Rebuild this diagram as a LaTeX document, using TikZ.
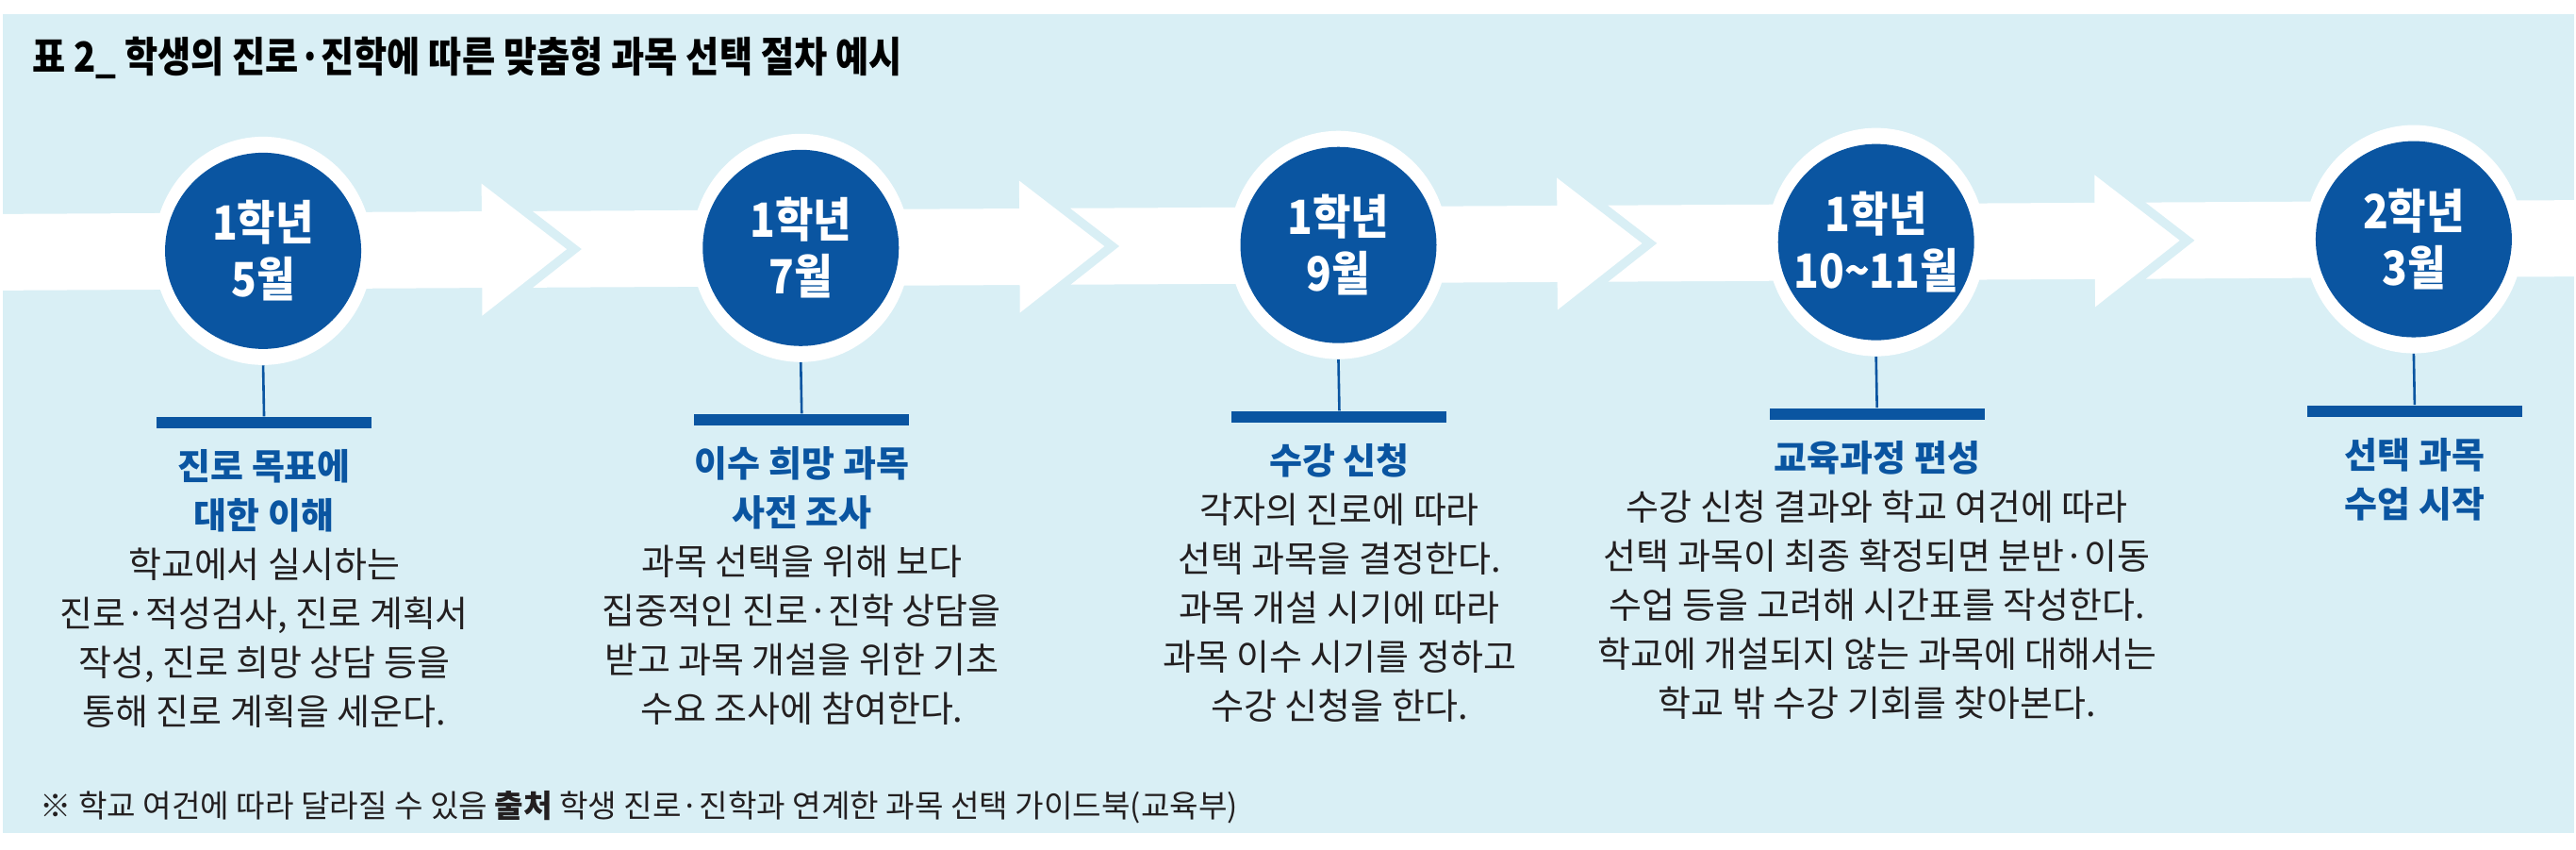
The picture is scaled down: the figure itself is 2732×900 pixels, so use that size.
\documentclass[tikz,border=0pt]{standalone}
\usepackage{fontspec}
\setmainfont{Noto Sans CJK KR}
\newfontfamily\circfont{Noto Sans CJK KR}[FakeStretch=0.88]
\newfontfamily\headfont{Noto Sans CJK KR}[FakeStretch=0.87]
\usetikzlibrary{shapes.geometric}
\definecolor{bgblue}{HTML}{D9EFF5}
\definecolor{tblue}{HTML}{0A55A1}
\definecolor{txt}{HTML}{231F20}
\newcommand{\ttl}[1]{\textcolor{tblue}{\bfseries #1}}
\begin{document}
\begin{tikzpicture}[x=0.5pt,y=-0.5pt,
 band/.style={fill=white,draw=none},
 ring/.style={ellipse,fill=white,minimum width=116pt,minimum height=121pt,inner sep=0},
 dot/.style={circle,fill=tblue,minimum size=104pt,inner sep=0,text=white,font=\circfont\bfseries\fontsize{25pt}{30pt}\selectfont,align=center},
 stem/.style={draw=tblue,line width=1.3pt},
 bar/.style={rectangle,fill=tblue,minimum width=114pt,minimum height=6pt,inner sep=0},
 desc/.style={anchor=north,align=center,inner sep=0,text=txt,font=\fontsize{19pt}{26pt}\selectfont}
]
\useasboundingbox (0,0) rectangle (2732,900);
\fill[bgblue] (3,15) rectangle (2730,883);
\node[anchor=base west,inner sep=0,text=black,font=\headfont\bfseries\fontsize{22pt}{24pt}\selectfont] (title) at (34,76) {표 2\_ 학생의 진로·진학에 따른 맞춤형 과목 선택 절차 예시};
\node[anchor=base west,inner sep=0,text=txt,font=\fontsize{16.6pt}{18pt}\selectfont] (note) at (42,866) {※ 학교 여건에 따라 달라질 수 있음 {\bfseries 출처} 학생 진로·진학과 연계한 과목 선택 가이드북(교육부)};
\begin{scope}[rotate around={0.31:(1366,260)}]
\path[band] (-5,219.5) -- (511,219.5) -- (511,190) -- (601,260) -- (511,330) -- (511,300.5) -- (-5,300.5) -- cycle;
\path[band] (565,219.5) -- (1081.25,219.5) -- (1081.25,190) -- (1171.25,260) -- (1081.25,330) -- (1081.25,300.5) -- (565,300.5) -- (617,260) -- cycle;
\path[band] (1135.25,219.5) -- (1651.5,219.5) -- (1651.5,190) -- (1741.5,260) -- (1651.5,330) -- (1651.5,300.5) -- (1135.25,300.5) -- (1187.25,260) -- cycle;
\path[band] (1705.5,219.5) -- (2221.75,219.5) -- (2221.75,190) -- (2311.75,260) -- (2221.75,330) -- (2221.75,300.5) -- (1705.5,300.5) -- (1757.5,260) -- cycle;
\path[band] (2275.75,219.5) -- (2745,219.5) -- (2745,300.5) -- (2275.75,300.5) -- (2327.75,260) -- cycle;
\node[ring] (r1) at (279,260) {};
\node[ring] (r2) at (849.25,260) {};
\node[ring] (r3) at (1419.5,260) {};
\node[ring] (r4) at (1989.75,260) {};
\node[ring] (r5) at (2560,260) {};
\node[dot] (d1) at (279,260) {1학년\\5월};
\node[dot] (d2) at (849.25,260) {1학년\\7월};
\node[dot] (d3) at (1419.5,260) {1학년\\9월};
\node[dot] (d4) at (1989.75,260) {1학년\\10\symbol{"7E}11월};
\node[dot] (d5) at (2560,260) {2학년\\3월};
\node[bar] (b1) at (279,442) {};
\node[bar] (b2) at (849.25,442) {};
\node[bar] (b3) at (1419.5,442) {};
\node[bar] (b4) at (1989.75,442) {};
\node[bar] (b5) at (2560,442) {};
\draw[stem] (r1.south) -- (b1.north);
\draw[stem] (r2.south) -- (b2.north);
\draw[stem] (r3.south) -- (b3.north);
\draw[stem] (r4.south) -- (b4.north);
\draw[stem] (r5.south) -- (b5.north);
\node[desc] (t1) at (279,470) {\ttl{진로 목표에}\\\ttl{대한 이해}\\학교에서 실시하는\\진로·적성검사, 진로 계획서\\작성, 진로 희망 상담 등을\\통해 진로 계획을 세운다.};
\node[desc] (t2) at (849.25,470) {\ttl{이수 희망 과목}\\\ttl{사전 조사}\\과목 선택을 위해 보다\\집중적인 진로·진학 상담을\\받고 과목 개설을 위한 기초\\수요 조사에 참여한다.};
\node[desc] (t3) at (1419.5,470) {\ttl{수강 신청}\\각자의 진로에 따라\\선택 과목을 결정한다.\\과목 개설 시기에 따라\\과목 이수 시기를 정하고\\수강 신청을 한다.};
\node[desc] (t4) at (1989.75,470) {\ttl{교육과정 편성}\\수강 신청 결과와 학교 여건에 따라\\선택 과목이 최종 확정되면 분반·이동\\수업 등을 고려해 시간표를 작성한다.\\학교에 개설되지 않는 과목에 대해서는\\학교 밖 수강 기회를 찾아본다.};
\node[desc] (t5) at (2560,470) {\ttl{선택 과목}\\\ttl{수업 시작}};
\end{scope}
\end{tikzpicture}
\end{document}
